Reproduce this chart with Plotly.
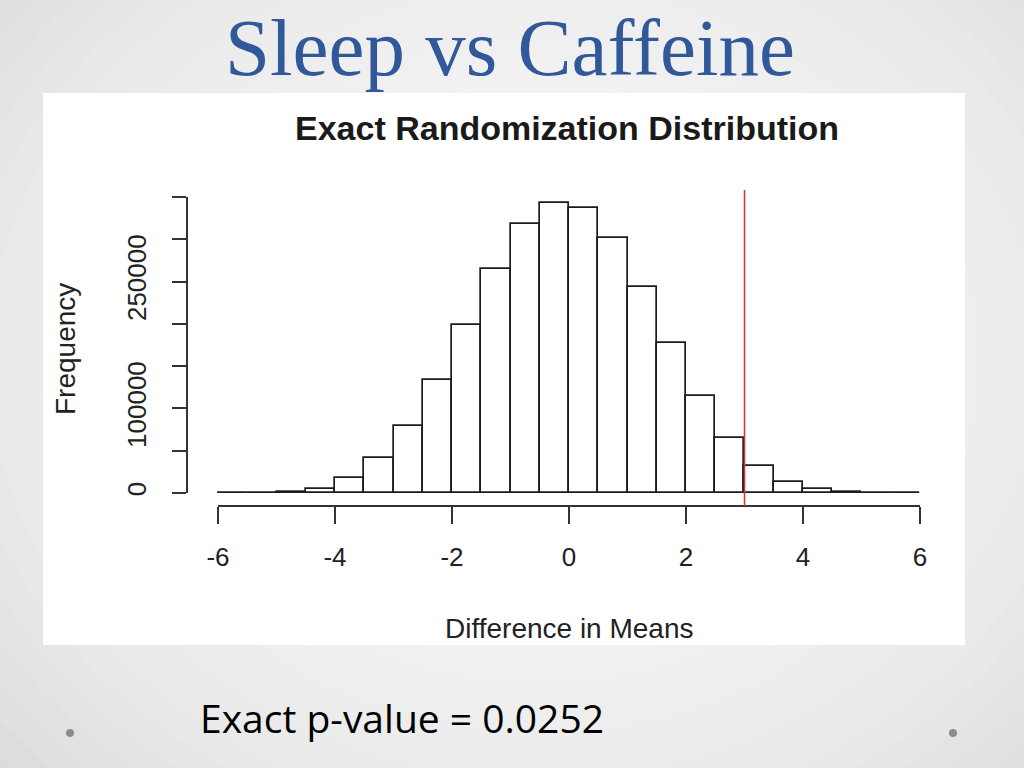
import plotly.graph_objects as go

# histogram of the exact randomization distribution
bin_start = [-6.0, -5.5, -5.0, -4.5, -4.0, -3.5, -3.0, -2.5, -2.0, -1.5, -1.0, -0.5,
             0.0, 0.5, 1.0, 1.5, 2.0, 2.5, 3.0, 3.5, 4.0, 4.5, 5.0, 5.5]
counts = [200, 300, 1000, 5000, 18000, 41500, 79500, 133500, 198500, 264500, 317500, 343500,
          337500, 302000, 243000, 177000, 114500, 65500, 32000, 12500, 4500, 1000, 300, 100]
bin_width = 0.5
observed_diff = 3.0

x_ticks = [-6, -4, -2, 0, 2, 4, 6]
x_tick_text = ["-6", "-4", "-2", "0", "2", "4", "6"]
y_ticks = [0, 50000, 100000, 150000, 200000, 250000, 300000, 350000]
y_tick_text = ["0", "", "100000", "", "", "250000", "", ""]

W, H = 1024, 768


def px(x):
    return x / W


def py(y):
    return 1 - y / H


centers = [b + bin_width / 2 for b in bin_start]

fig = go.Figure()
fig.add_trace(go.Bar(x=centers, y=counts, width=bin_width,
                     marker=dict(color="white", line=dict(color="#1c1c1c", width=1.7)),
                     showlegend=False, hoverinfo="x+y"))
# dummy trace so the R-style display axes get drawn
fig.add_trace(go.Scatter(x=[None], y=[None], xaxis="x2", yaxis="y2", showlegend=False))

fig.add_vline(x=observed_diff, line=dict(color="#ee2a24", width=1.5))

font_r = "Liberation Sans, Arial, sans-serif"

fig.update_layout(
    width=W, height=H,
    margin=dict(l=0, r=0, t=0, b=0, pad=0, autoexpand=False),
    paper_bgcolor="#dadada",
    plot_bgcolor="rgba(0,0,0,0)",
    bargap=0,
    xaxis=dict(domain=[px(190), px(948)], range=[-6.479, 6.479], visible=False,
               fixedrange=True, automargin=False),
    yaxis=dict(domain=[py(506), py(190)], range=[-15371, 358277], visible=False,
               fixedrange=True, automargin=False),
    xaxis2=dict(domain=[px(218), px(920)], range=[-6, 6], anchor="free", position=py(506),
                showline=True, linecolor="#333333", linewidth=1.5, showgrid=False, zeroline=False,
                tickvals=x_ticks, ticktext=x_tick_text, ticks="outside", ticklen=17, tickwidth=1.5,
                tickcolor="#333333", ticklabelstandoff=11, automargin=False,
                tickfont=dict(family=font_r, size=26, color="#222222")),
    yaxis2=dict(domain=[py(493), py(197)], range=[0, 350000], anchor="free", position=px(187),
                showline=True, linecolor="#333333", linewidth=1.5, showgrid=False, zeroline=False,
                tickvals=y_ticks, ticktext=y_tick_text, ticks="outside", ticklen=14, tickwidth=1.5,
                tickcolor="#333333", tickangle=-90, ticklabelstandoff=16, automargin=False,
                tickfont=dict(family=font_r, size=26, color="#222222")),
)

# slide background: soft radial glow + white picture panel
shapes = []
for k in range(20):
    rx = 720 - k * 28
    ry = 600 - k * 23
    shapes.append(dict(type="circle", xref="paper", yref="paper", layer="below",
                       x0=px(540 - rx), x1=px(540 + rx), y0=py(360 + ry), y1=py(360 - ry),
                       fillcolor="rgba(255,255,255,0.09)", line=dict(width=0)))
shapes.append(dict(type="rect", xref="paper", yref="paper", layer="below",
                   x0=px(43), x1=px(965), y0=py(645), y1=py(93),
                   fillcolor="white", line=dict(width=0)))
for cx in [70, 953]:
    shapes.append(dict(type="circle", xref="paper", yref="paper",
                       x0=px(cx - 4), x1=px(cx + 4), y0=py(737), y1=py(729),
                       fillcolor="#8c8c8c", line=dict(width=0)))
fig.update_layout(shapes=list(fig.layout.shapes) + shapes)

fig.add_annotation(text="Sleep vs Caffeine", x=px(510), y=py(48), xref="paper", yref="paper",
                   showarrow=False, xanchor="center", yanchor="middle",
                   font=dict(family="Liberation Serif, Times New Roman, serif", size=81, color="#31599a"))
fig.add_annotation(text="<b>Exact Randomization Distribution</b>", x=px(567), y=py(128),
                   xref="paper", yref="paper", showarrow=False, xanchor="center", yanchor="middle",
                   font=dict(family=font_r, size=34, color="#1a1a1a"))
fig.add_annotation(text="Difference in Means", x=px(569), y=py(628), xref="paper", yref="paper",
                   showarrow=False, xanchor="center", yanchor="middle",
                   font=dict(family=font_r, size=28, color="#222222"))
fig.add_annotation(text="Frequency", x=px(66), y=py(349), xref="paper", yref="paper",
                   showarrow=False, xanchor="center", yanchor="middle", textangle=-90,
                   font=dict(family=font_r, size=28, color="#222222"))
fig.add_annotation(text="Exact p-value = 0.0252", x=px(198), y=py(717), xref="paper", yref="paper",
                   showarrow=False, xanchor="left", yanchor="middle",
                   font=dict(family="Open Sans, Noto Sans, sans-serif", size=39, color="#000000"))

# drop the browser's default page margin so the slide sits at the window corner
fig.write_html("out.html", config={"displayModeBar": False},
               post_script="document.body.style.margin='0';")
